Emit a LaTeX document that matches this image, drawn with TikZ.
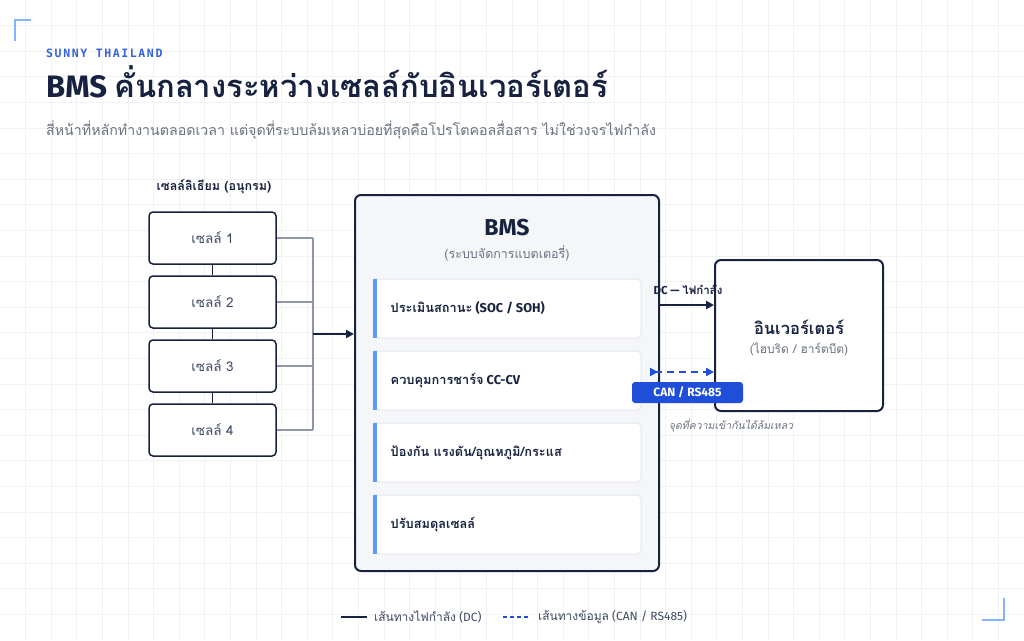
\documentclass[tikz,border=0pt]{standalone}
\usepackage{fontspec}
\usetikzlibrary{arrows.meta}
\setmainfont{Fira Sans}
\newfontfamily\thaifont[Script=Thai]{Loma}
\newfontfamily\monof[LetterSpace=14]{DejaVu Sans Mono}
\newcommand\T[1]{{\thaifont #1}}
\newcommand\fs[1]{\fontsize{#1}{#1}\selectfont}
\definecolor{navy}{HTML}{16223F}
\definecolor{busgray}{HTML}{8E97A8}
\definecolor{accent}{HTML}{5B9BF5}
\definecolor{canblue}{HTML}{1F4FD8}
\definecolor{txtgray}{HTML}{6B7280}
\definecolor{bmsfill}{HTML}{F5F6F8}
\definecolor{subborder}{HTML}{E3E6EA}
\definecolor{gridc}{HTML}{F1F2F4}
\definecolor{cornerc}{HTML}{86B3FF}
\definecolor{celltxt}{HTML}{3E4A63}
\definecolor{brandc}{HTML}{3461E0}
\begin{document}
\begin{tikzpicture}[x=1pt,y=-1pt,
  cellbox/.style={draw=navy,line width=1.5pt,fill=white,rounded corners=4pt,minimum width=127pt,minimum height=52pt,inner sep=0pt,font=\fs{13.5}\color{celltxt}},
  subbox/.style={draw=subborder,line width=1pt,fill=white,rounded corners=4pt,minimum width=268pt,minimum height=59pt,inner sep=0pt},
  subtxt/.style={anchor=west,inner sep=0pt,font=\fs{12.8}\bfseries\color{navy}},
  busline/.style={draw=busgray,line width=1.2pt},
  dcline/.style={draw=navy,line width=2.2pt,-{Triangle[length=8pt,width=8pt]}},
  dataline/.style={draw=canblue,line width=2pt,dash pattern=on 7pt off 5pt,{Triangle[reversed,length=8pt,width=8pt]}-{Triangle[length=8pt,width=8pt]}},
  corner/.style={draw=cornerc,line width=1.6pt},
  plain/.style={inner sep=0pt}
]
\useasboundingbox (0,0) rectangle (1024,640);
\fill[white] (0,0) rectangle (1024,640);
\foreach \i in {1,...,39} \draw[gridc,line width=0.8pt] (\i*25.6,0) -- (\i*25.6,640);
\foreach \j in {1,...,24} \draw[gridc,line width=0.8pt] (0,\j*25.6) -- (1024,\j*25.6);
% corners
\draw[corner] (15,41) -- (15,20) -- (31,20);
\draw[corner] (982,620) -- (1004,620) -- (1004,598);
% header
\node[plain,anchor=base west,font=\monof\bfseries\fs{11.5}\color{brandc}] (brand) at (46,57) {SUNNY THAILAND};
\node[plain,anchor=base west,font=\fs{31}\bfseries\color{navy}] (title) at (46,97) {BMS \T{คั่นกลางระหว่างเซลล์กับอินเวอร์เตอร์}};
\node[plain,anchor=base west,font=\fs{14.2}\color{txtgray}] (sub) at (46,135) {\T{สี่หน้าที่หลักทำงานตลอดเวลา แต่จุดที่ระบบล้มเหลวบ่อยที่สุดคือโปรโตคอลสื่อสาร ไม่ใช่วงจรไฟกำลัง}};
% cells
\node[plain,font=\fs{12.5}\bfseries\color{navy}] (cellhdr) at (214,187) {\T{เซลล์ลิเธียม (อนุกรม)}};
\node[cellbox] (c1) at (212.5,238) {\T{เซลล์ 1}};
\node[cellbox] (c2) at (212.5,302) {\T{เซลล์ 2}};
\node[cellbox] (c3) at (212.5,366) {\T{เซลล์ 3}};
\node[cellbox] (c4) at (212.5,430) {\T{เซลล์ 4}};
\draw[navy,line width=1.5pt] (c1.south) -- (c2.north) (c2.south) -- (c3.north) (c3.south) -- (c4.north);
\coordinate (bt) at (313,238);
\coordinate (bb) at (313,430);
\coordinate (bm) at (313,334);
\draw[busline] (c1.east) -- (c1.east -| bt) (c2.east) -- (c2.east -| bt) (c3.east) -- (c3.east -| bt) (c4.east) -- (c4.east -| bt) (bt) -- (bb);
% BMS
\node[draw=navy,line width=2pt,fill=bmsfill,rounded corners=6pt,minimum width=304pt,minimum height=376pt,inner sep=0pt] (bms) at (507,383) {};
\draw[dcline] (bm) -- (bms.west |- bm);
\node[plain,font=\fs{23}\bfseries\color{navy}] (bmst) at (507,228) {BMS};
\node[plain,font=\fs{12.5}\color{txtgray}] (bmss) at (507,253) {\T{(ระบบจัดการแบตเตอรี่)}};
\foreach \n/\y/\t in {s1/308.5/{\T{ประเมินสถานะ} (SOC / SOH)},s2/380.5/{\T{ควบคุมการชาร์จ} CC-CV},s3/452.5/{\T{ป้องกัน แรงดัน/อุณหภูมิ/กระแส}},s4/524.5/{\T{ปรับสมดุลเซลล์}}}{
  \node[subbox] (\n) at (507,\y) {};
  \fill[accent] ([yshift=-0.5pt]\n.north west) rectangle ([xshift=4pt,yshift=0.5pt]\n.south west);
  \node[subtxt] at ([xshift=18pt]\n.west) {\t};
}
% inverter
\node[draw=navy,line width=2pt,fill=white,rounded corners=6pt,minimum width=168pt,minimum height=151pt,inner sep=0pt] (inv) at (799,335.5) {};
\node[plain,font=\fs{16.5}\bfseries\color{navy}] (invt) at (799,327) {\T{อินเวอร์เตอร์}};
\node[plain,font=\fs{12}\color{txtgray}] (invs) at (799,349) {\T{(ไฮบริด / ฮาร์ตบีต)}};
% DC link
\coordinate (dcy) at (0,305);
\draw[dcline] (bms.east |- dcy) -- (inv.west |- dcy);
\node[plain,font=\fs{11.5}\bfseries\color{navy}] (dcl) at (688,290) {DC — \T{ไฟกำลัง}};
% data link
\coordinate (cs) at (650,372);
\draw[dataline] (cs) -- (inv.west |- cs);
\node[fill=canblue,rounded corners=3pt,minimum width=111pt,minimum height=21pt,inner sep=0pt,font=\fs{12}\bfseries\color{white}] (can) at (687.5,392.5) {CAN / RS485};
\node[plain,font=\fs{10.5}\itshape\color{txtgray}] (fail) at (731,425) {\T{จุดที่ความเข้ากันได้ล้มเหลว}};
% legend
\coordinate (l1a) at (341,617); \coordinate (l1b) at (367,617);
\draw[navy,line width=2.5pt] (l1a) -- (l1b);
\node[plain,anchor=west,font=\fs{12}\color{celltxt}] (lt1) at (374,617) {\T{เส้นทางไฟกำลัง} (DC)};
\coordinate (l2a) at (503,617); \coordinate (l2b) at (530,617);
\draw[canblue,line width=2.5pt,dash pattern=on 4pt off 3pt] (l2a) -- (l2b);
\node[plain,anchor=west,font=\fs{12}\color{celltxt}] (lt2) at (538,617) {\T{เส้นทางข้อมูล} (CAN / RS485)};
\end{tikzpicture}
\end{document}
